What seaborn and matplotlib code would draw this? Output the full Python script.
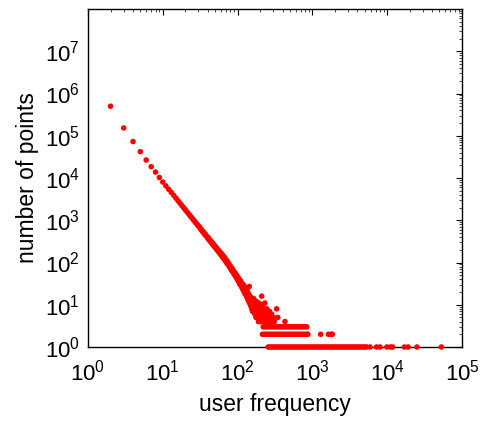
import numpy as np
import pandas as pd
import matplotlib
matplotlib.use("Agg")
import matplotlib.pyplot as plt
import seaborn as sns
from matplotlib.ticker import LogLocator, NullFormatter

# ---- data (user frequency vs number of points) ----
trend_x = [2, 3, 4, 5, 6, 7, 8, 9, 10, 11, 12, 13, 14, 15, 16, 17, 18, 19, 20,
           21, 22, 23, 24, 25, 26, 27, 28, 29, 30, 31, 32, 33, 34, 35, 36, 37,
           38, 39, 40, 41, 42, 43, 44, 45, 46, 47, 48, 49, 50, 51, 52, 53, 54,
           55, 56, 57, 58, 59, 60, 61, 62, 63, 64, 65, 66, 67, 68]
trend_y = [500000, 153000, 73000, 42000, 26600, 18500, 13800, 10300, 8000,
           6500, 5400, 4560, 3880, 3330, 2890, 2530, 2230, 1980, 1770, 1590,
           1435, 1300, 1185, 1083, 993, 914, 844, 781, 725, 690, 615, 600, 535,
           530, 470, 470, 420, 415, 372, 378, 335, 340, 300, 308, 272, 282, 248,
           255, 228, 236, 208, 214, 192, 198, 176, 185, 163, 172, 150, 160, 140,
           150, 130, 140, 121, 130, 114]

scatter_x = [69, 70, 71, 72, 73, 74, 75, 76, 77, 78, 79, 80, 81, 82, 83, 84,
             85, 86, 87, 88, 89, 90, 91, 92, 93, 94, 95, 96, 97, 98, 99, 100,
             101, 102, 103, 104, 105, 106, 107, 108, 109, 110, 112, 113, 114,
             115, 116, 117, 118, 119, 120, 121, 122, 123, 124, 125, 126, 127,
             128, 129, 130, 131, 132, 133, 134, 135, 136, 137, 138, 139, 140,
             141, 142, 143, 144, 145, 146, 147, 148, 149, 150, 152, 153, 154,
             155, 156, 157, 158, 159, 160, 162, 163, 164, 165, 166, 167, 168,
             170, 171, 172, 174, 175, 176, 177, 178, 180, 181, 183, 184, 185,
             187, 188, 190, 191, 193, 194, 196, 197, 199, 200, 202, 204, 205,
             207, 209, 210, 211, 213, 215, 216, 218, 220, 222, 224, 226, 228,
             230, 232, 234, 236, 238, 240, 243, 246, 249, 252, 255, 258, 262,
             266, 270, 275, 280, 285, 292, 300, 310, 333, 345, 430]
scatter_y = [108, 118, 102, 96, 106, 92, 88, 95, 82, 86, 78, 74, 80, 70, 66,
             72, 63, 68, 58, 62, 55, 60, 52, 57, 49, 54, 46, 51, 44, 48, 40, 45,
             38, 43, 36, 41, 34, 39, 31, 37, 30, 35, 28, 33, 26, 31, 25, 30, 23,
             28, 22, 29, 21, 26, 20, 24, 18, 25, 19, 22, 17, 21, 16, 23, 15, 20,
             14, 19, 16, 13, 18, 12, 17, 27, 14, 11, 16, 13, 10, 15, 12, 9, 14,
             11, 8, 13, 10, 7, 12, 9, 11, 8, 14, 10, 7, 12, 9, 6, 11, 8, 10, 7,
             5, 9, 12, 6, 8, 10, 5, 7, 9, 6, 4, 8, 11, 5, 7, 6, 9, 4, 8, 5, 6,
             10, 4, 16, 7, 5, 9, 6, 4, 7, 5, 8, 4, 6, 5, 11, 4, 7, 5, 6, 4, 8,
             5, 4, 6, 4, 5, 7, 4, 5, 4, 6, 4, 5, 4, 8, 5, 4]

row3_x = [220, 233, 247, 262, 278, 295, 312, 331, 351, 372, 394, 418, 443, 470,
          498, 528, 560, 593, 629, 667, 707, 749, 794, 842]
row2_x = [215, 228, 241, 255, 270, 286, 303, 321, 340, 360, 381, 403, 427, 452,
          479, 507, 537, 569, 603, 638, 676, 716, 758, 803, 850, 870, 1290,
          1640, 1800, 1850]
row1_x = [256, 271, 287, 305, 323, 342, 363, 385, 408, 432, 458, 486, 515, 546,
          578, 613, 650, 689, 730, 774, 820, 870, 922, 977, 1036, 1098, 1164,
          1234, 1308, 1386, 1469, 1557, 1651, 1750, 1855, 1966, 2084, 2209,
          2342, 2482, 2631, 2789, 2956, 3134, 3322, 3521, 3732, 3956, 4193,
          4445, 4712, 4994, 5300, 5900, 7200, 8000, 9900, 11000, 11800, 17000,
          19000, 25000, 53000]

x_ticks = [1e0, 1e1, 1e2, 1e3, 1e4, 1e5]
y_ticks = [1e0, 1e1, 1e2, 1e3, 1e4, 1e5, 1e6, 1e7]

df = pd.DataFrame({
    "user frequency": trend_x + scatter_x + row3_x + row2_x + row1_x,
    "number of points": trend_y + scatter_y + [3] * len(row3_x)
                        + [2] * len(row2_x) + [1] * len(row1_x),
})

sns.set_theme(style="white")
plt.rcParams["font.family"] = ["Liberation Sans", "DejaVu Sans"]
plt.rcParams["mathtext.default"] = "regular"
plt.rcParams["xtick.direction"] = "in"
plt.rcParams["ytick.direction"] = "in"

fig = plt.figure(figsize=(4.83, 4.21), dpi=100)
ax = fig.add_axes([88 / 483, 74 / 421, 374 / 483, 338 / 421])

sns.scatterplot(data=df, x="user frequency", y="number of points", ax=ax,
                color="#ff0000", s=16, linewidth=0, edgecolor="none",
                clip_on=False, zorder=3)

ax.set_xscale("log")
ax.set_yscale("log")
ax.set_xlim(1, 1e5)
ax.set_ylim(1, 1e8)
ax.set_xticks(x_ticks)
ax.set_yticks(y_ticks)
ax.xaxis.set_minor_locator(LogLocator(base=10, subs=np.arange(2, 10), numticks=20))
ax.yaxis.set_minor_locator(LogLocator(base=10, subs=np.arange(2, 10), numticks=20))
ax.xaxis.set_minor_formatter(NullFormatter())
ax.yaxis.set_minor_formatter(NullFormatter())

ax.tick_params(axis="both", which="major", direction="in", length=4, width=0.8,
               top=True, right=True, labelsize=16, colors="black")
ax.tick_params(axis="x", which="major", pad=9)
ax.tick_params(axis="y", which="major", pad=6)
ax.tick_params(axis="both", which="minor", direction="in", length=2, width=0.6,
               top=True, right=True)
for sp in ax.spines.values():
    sp.set_visible(True)
    sp.set_color("black")
    sp.set_linewidth(1.0)

ax.set_xlabel("user frequency", fontsize=16.5, color="black", labelpad=5.5)
ax.set_ylabel("number of points", fontsize=16.5, color="black", labelpad=4)
ax.grid(False)

fig.savefig("out.png", dpi=100, facecolor="white")
